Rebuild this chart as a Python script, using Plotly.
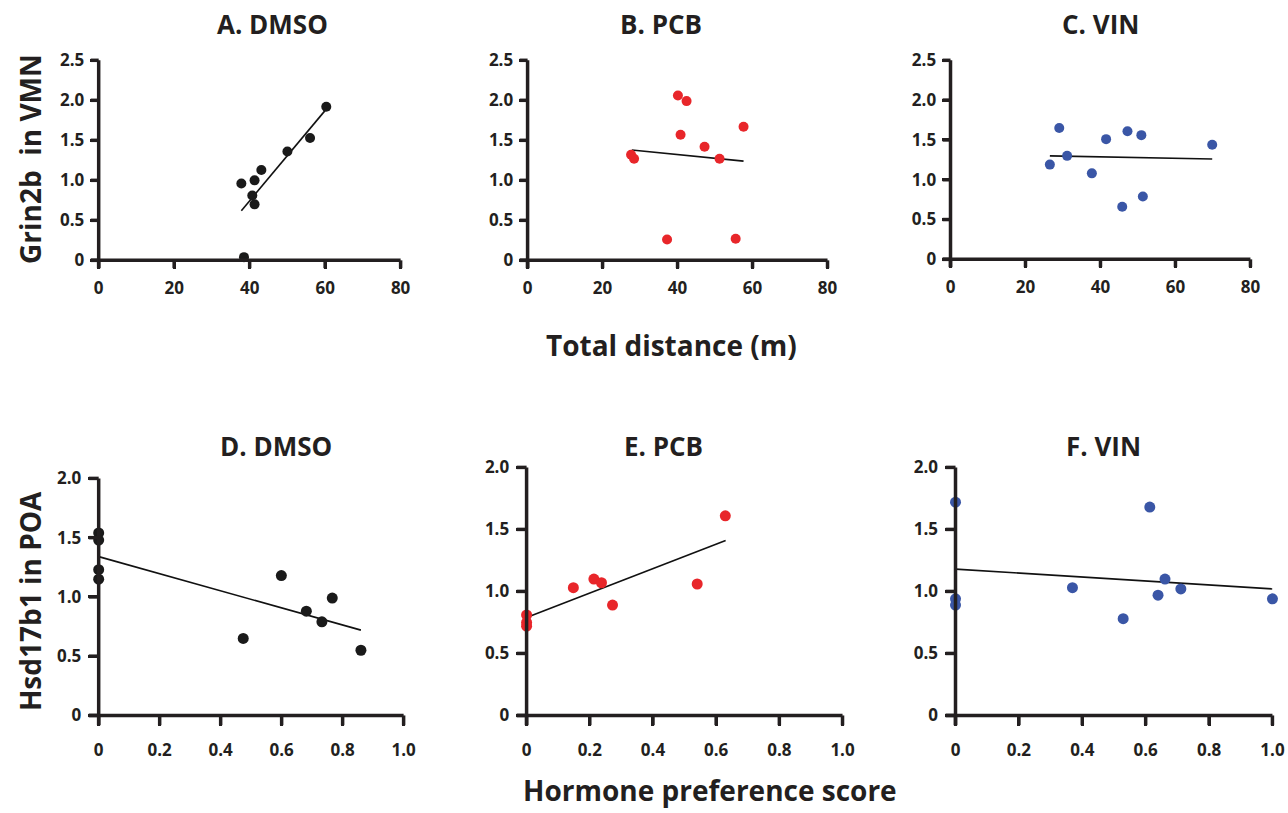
import plotly.graph_objects as go

# ---------------- data ----------------
a_x = [37.8, 41.3, 43.1, 40.7, 41.3, 38.5, 50.0, 56.0, 60.3]
a_y = [0.96, 1.00, 1.13, 0.81, 0.70, 0.04, 1.36, 1.53, 1.92]
a_fit_x = [37.8, 60.3]
a_fit_y = [0.62, 1.89]

b_x = [27.6, 28.4, 40.1, 42.4, 40.8, 47.2, 51.2, 57.6, 37.2, 55.5]
b_y = [1.32, 1.27, 2.06, 1.99, 1.57, 1.42, 1.27, 1.67, 0.26, 0.27]
b_fit_x = [27.8, 57.6]
b_fit_y = [1.38, 1.24]

c_x = [26.5, 29.0, 31.1, 37.7, 41.5, 47.2, 50.9, 45.8, 51.3, 69.8]
c_y = [1.19, 1.65, 1.30, 1.08, 1.51, 1.61, 1.56, 0.66, 0.79, 1.44]
c_fit_x = [26.5, 69.8]
c_fit_y = [1.30, 1.26]

d_x = [0.0, 0.0, 0.0, 0.0, 0.474, 0.599, 0.681, 0.732, 0.766, 0.860]
d_y = [1.54, 1.48, 1.23, 1.15, 0.65, 1.18, 0.88, 0.79, 0.99, 0.55]
d_fit_x = [0.0, 0.86]
d_fit_y = [1.34, 0.72]

e_x = [0.0, 0.0, 0.0, 0.148, 0.213, 0.237, 0.272, 0.540, 0.629]
e_y = [0.81, 0.75, 0.72, 1.03, 1.10, 1.07, 0.89, 1.06, 1.61]
e_fit_x = [0.0, 0.63]
e_fit_y = [0.79, 1.41]

f_x = [0.0, 0.0, 0.0, 0.369, 0.529, 0.613, 0.639, 0.661, 0.711, 1.0]
f_y = [1.72, 0.94, 0.89, 1.03, 0.78, 1.68, 0.97, 1.10, 1.02, 0.94]
f_fit_x = [0.0, 1.0]
f_fit_y = [1.18, 1.02]

titles = ["A. DMSO", "B. PCB", "C. VIN", "D. DMSO", "E. PCB", "F. VIN"]
row1_xticks = [0, 20, 40, 60, 80]
row1_yticks = [0, 0.5, 1.0, 1.5, 2.0, 2.5]
row1_ytext = ["0", "0.5", "1.0", "1.5", "2.0", "2.5"]
row2_xticks = [0, 0.2, 0.4, 0.6, 0.8, 1.0]
row2_xtext = ["0", "0.2", "0.4", "0.6", "0.8", "1.0"]
row2_yticks = [0, 0.5, 1.0, 1.5, 2.0]
row2_ytext = ["0", "0.5", "1.0", "1.5", "2.0"]

BLACK = "#1a1a1a"
RED = "#e8262a"
BLUE = "#3a56a6"
TXT = "#231f20"
AXC = "#231f20"
FONT = "Open Sans"

W, H = 1288, 813


# map a wanted on-screen pixel to figure pixel (compensates page scaling seen in renders)
def PX(t):
    return (t - 4.3) / 0.987


def PY(t):
    return (t - 12.7) / 0.9715


panels = [
    (a_x, a_y, a_fit_x, a_fit_y, BLACK, (98, 400), (61, 261), 1),
    (b_x, b_y, b_fit_x, b_fit_y, RED, (527, 827), (61, 261), 1),
    (c_x, c_y, c_fit_x, c_fit_y, BLUE, (950, 1250), (61, 260), 1),
    (d_x, d_y, d_fit_x, d_fit_y, BLACK, (98, 403), (479, 716), 2),
    (e_x, e_y, e_fit_x, e_fit_y, RED, (526, 842), (468, 716), 2),
    (f_x, f_y, f_fit_x, f_fit_y, BLUE, (955, 1272), (468, 716), 2),
]

fig = go.Figure()
layout = {}
# axis frame segments (drawn as a trace on a full-page overlay axis, in figure pixels)
frame_x, frame_y = [], []


def seg(xa0, ya0, xa1, ya1):
    frame_x.extend([xa0, xa1, None])
    frame_y.extend([ya0, ya1, None])


for i, (xs, ys, fx, fy, col, (tx0, tx1), (ty0, ty1), row) in enumerate(panels, start=1):
    x0, x1, y0, y1 = PX(tx0), PX(tx1), PY(ty0), PY(ty1)
    xa = "x" if i == 1 else f"x{i}"
    ya = "y" if i == 1 else f"y{i}"
    fig.add_trace(go.Scatter(x=fx, y=fy, mode="lines", xaxis=xa, yaxis=ya,
                             line=dict(color="#111111", width=1.6),
                             showlegend=False, hoverinfo="skip", cliponaxis=False))
    fig.add_trace(go.Scatter(x=xs, y=ys, mode="markers", xaxis=xa, yaxis=ya,
                             marker=dict(color=col, size=10 if row == 1 else 11,
                                         line=dict(width=0)),
                             showlegend=False, cliponaxis=False))
    tl = 8 if row == 1 else 10
    common = dict(showline=False, ticks="outside", tickwidth=3, tickcolor=AXC,
                  showgrid=False, zeroline=False, ticklen=tl,
                  tickfont=dict(family=FONT, size=17, color=TXT, weight="bold"))
    if row == 1:
        xt, yt, xr, yr = row1_xticks, row1_yticks, [0, 80], [0, 2.5]
        xax = dict(range=xr, tickvals=row1_xticks, ticklabelstandoff=4, **common)
        yax = dict(range=yr, tickvals=row1_yticks, ticktext=row1_ytext, ticklabelstandoff=2, **common)
    else:
        xt, yt, xr, yr = row2_xticks, row2_yticks, [0, 1.0], [0, 2.0]
        xax = dict(range=xr, tickvals=row2_xticks, ticktext=row2_xtext, ticklabelstandoff=9, **common)
        yax = dict(range=yr, tickvals=row2_yticks, ticktext=row2_ytext, ticklabelstandoff=3, **common)
    xax["domain"] = [x0 / W, x1 / W]
    xax["anchor"] = ya
    yax["domain"] = [1 - y1 / H, 1 - y0 / H]
    yax["anchor"] = xa
    layout["xaxis" if i == 1 else f"xaxis{i}"] = xax
    layout["yaxis" if i == 1 else f"yaxis{i}"] = yax

    # frame in overlay coordinates (x from left, y from bottom, in figure pixels)
    left, right = x0, x1
    bottom, top = H - y1, H - y0
    seg(left - tl, bottom, right, bottom)          # x axis line
    seg(left, bottom - tl, left, top)              # y axis line
    for v in xt:
        xp = left + (v - xr[0]) / (xr[1] - xr[0]) * (right - left)
        seg(xp, bottom, xp, bottom - tl)
    for v in yt:
        yp = bottom + (v - yr[0]) / (yr[1] - yr[0]) * (top - bottom)
        seg(left, yp, left - tl, yp)

fig.add_trace(go.Scatter(x=frame_x, y=frame_y, mode="lines", xaxis="x7", yaxis="y7",
                         line=dict(color=AXC, width=3.5), connectgaps=False,
                         showlegend=False, hoverinfo="skip", cliponaxis=False))
layout["xaxis7"] = dict(domain=[0, 1], range=[0, W], anchor="y7", visible=False,
                        showgrid=False, zeroline=False, fixedrange=True)
layout["yaxis7"] = dict(domain=[0, 1], range=[0, H], anchor="x7", visible=False,
                        showgrid=False, zeroline=False, fixedrange=True)

title_pos = [(272, 25), (660, 25), (1100, 25), (275, 447), (663, 447), (1103, 447)]
annotations = []
for t, (px, py) in zip(titles, title_pos):
    annotations.append(dict(text=t, x=PX(px) / W, y=1 - PY(py) / H, xref="paper", yref="paper",
                            showarrow=False, xanchor="center", yanchor="middle",
                            font=dict(family=FONT, size=26, color=TXT, weight="bold")))
annotations.append(dict(text="Total distance (m)", x=PX(671) / W, y=1 - PY(346) / H,
                        xref="paper", yref="paper", showarrow=False, xanchor="center", yanchor="middle",
                        font=dict(family=FONT, size=28, color=TXT, weight="bold")))
annotations.append(dict(text="Hormone preference score", x=PX(709) / W, y=0,
                        xref="paper", yref="paper", showarrow=False, xanchor="center", yanchor="bottom",
                        yshift=-9,
                        font=dict(family=FONT, size=28, color=TXT, weight="bold")))
annotations.append(dict(text="Grin2b  in VMN", x=PX(30) / W, y=1 - PY(160) / H,
                        xref="paper", yref="paper", showarrow=False, xanchor="center", yanchor="middle",
                        textangle=-90, font=dict(family=FONT, size=28, color=TXT, weight="bold")))
annotations.append(dict(text="Hsd17b1 in POA", x=PX(30) / W, y=1 - PY(602) / H,
                        xref="paper", yref="paper", showarrow=False, xanchor="center", yanchor="middle",
                        textangle=-90, font=dict(family=FONT, size=28, color=TXT, weight="bold")))

fig.update_layout(width=W, height=H, margin=dict(l=0, r=0, t=0, b=0),
                  paper_bgcolor="white", plot_bgcolor="rgba(0,0,0,0)",
                  annotations=annotations, **layout)

fig.write_html("out.html", config={"displayModeBar": False},
               post_script="document.body.style.margin='0';document.body.style.overflow='hidden';")
